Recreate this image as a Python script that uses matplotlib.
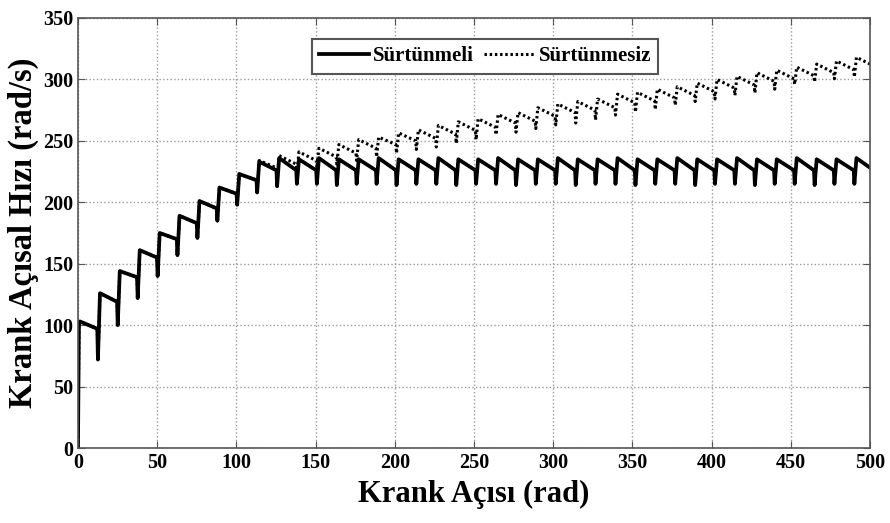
import numpy as np
import matplotlib
matplotlib.use("Agg")
import matplotlib.pyplot as plt

# cycle boundaries (crank angle, rad) where the speed dips
cycle_x = [0, 12.6, 25.1, 37.7, 50.3, 62.8, 75.4, 88.0, 100.5, 113.1,
           125.7, 138.2, 150.8, 163.4, 175.9, 188.5, 201.1, 213.6, 226.2, 238.8,
           251.3, 263.9, 276.5, 289.0, 301.6, 314.2, 326.7, 339.3, 351.9, 364.4,
           377.0, 389.6, 402.1, 414.7, 427.3, 439.8, 452.4, 465.0, 477.5, 490.1,
           502.7]

# with friction: peak after each dip, value just before next dip, dip value
peak_s = [103, 126, 144, 161, 175, 189, 201, 212, 223, 233,
          236, 235, 236, 235, 235, 236, 235, 235, 236, 235,
          235, 236, 235, 235, 236, 235, 235, 236, 235, 235,
          236, 235, 235, 236, 235, 235, 236, 235, 235, 236]
end_s = [97, 119, 139, 155, 170, 183, 195, 207, 218, 226,
         226, 226, 226, 226, 226, 226, 226, 226, 226, 226,
         226, 226, 226, 226, 226, 226, 226, 226, 226, 226,
         226, 226, 226, 226, 226, 226, 226, 226, 226, 226]
dip_s = [72, 100, 122, 140, 157, 171, 185, 198, 208, 213,
         215, 215, 214, 215, 215, 214, 215, 215, 214, 215,
         215, 214, 215, 215, 214, 215, 215, 214, 215, 215,
         214, 215, 215, 214, 215, 215, 214, 215, 215, 214]

# without friction
peak_f = [103, 126, 144, 161, 175, 189, 201, 212, 223, 234,
          238, 241, 244, 247, 251, 253, 256.5, 259, 262.5, 265.5,
          268, 271.5, 273, 277, 280, 282, 284, 288, 289.5, 292,
          294, 297, 300, 302.5, 305.5, 307.5, 310, 312.5, 315, 318]
end_f = [97, 119, 139, 155, 170, 183, 195, 207, 218, 228,
         231, 234, 237, 240, 244, 247, 250, 252, 255.5, 258.5,
         261, 264.5, 266, 270, 273, 275, 277, 281, 282.5, 285,
         287, 290, 293, 295.5, 298.5, 300.5, 303, 305.5, 308, 311]
dip_f = [72, 100, 122, 140, 157, 171, 185, 198, 208, 218,
         224, 228, 231, 234, 237, 240, 243, 245, 248, 251,
         255, 257, 260, 263, 264.5, 267, 271, 273.5, 275.5, 279,
         282, 284, 287, 289, 292, 296, 298, 300.5, 302, 305]


def build(peaks, ends, dips):
    xs, ys = [0, 0.6], [0, 100]
    for k in range(len(peaks)):
        b0, b1 = cycle_x[k], cycle_x[k + 1]
        xs += [b0 + 1.3, b1 - 0.4, b1]
        ys += [peaks[k], ends[k], dips[k]]
    return xs, ys


xs_s, ys_s = build(peak_s, end_s, dip_s)
xs_f, ys_f = build(peak_f, end_f, dip_f)

plt.rcParams['font.family'] = ['Liberation Serif', 'DejaVu Serif']
plt.rcParams['font.weight'] = 'bold'

fig = plt.figure(figsize=(8.9, 5.23), dpi=100)
ax = fig.add_axes([0.0876, 0.1434, 0.89, 0.8222])

ax.plot(xs_f, ys_f, color='black', lw=2.2, ls=(0, (0.8, 0.9)), label='Sürtünmesiz')
ax.plot(xs_s, ys_s, color='black', lw=2.7, ls='-', label='Sürtünmeli')

ax.set_xlim(0, 500)
ax.set_ylim(0, 350)
ax.set_xticks(np.arange(0, 501, 50))
ax.set_yticks(np.arange(0, 351, 50))
ax.grid(True, ls=':', color='#9a9a9a', lw=1.0)
ax.tick_params(direction='in', top=True, right=True, labelsize=14.5, length=5,
               color='#555555')
for lab in ax.get_xticklabels() + ax.get_yticklabels():
    lab.set_fontweight('bold')
for s in ax.spines.values():
    s.set_color('#555555')
    s.set_linewidth(1.2)

ax.set_xlabel('Krank Açısı (rad)', fontsize=22, fontweight='bold', labelpad=5)
ax.set_ylabel('Krank Açısal Hızı (rad/s)', fontsize=23.5, fontweight='bold', labelpad=3)

h, l = ax.get_legend_handles_labels()
leg = ax.legend([h[1], h[0]], [l[1], l[0]], loc='upper center',
                bbox_to_anchor=(0.514, 0.975), ncol=2, fancybox=False,
                framealpha=1, edgecolor='#555555',
                handlelength=2.4, handletextpad=0.2, columnspacing=0.5,
                borderpad=0.35, prop={'weight': 'bold', 'size': 15})
leg.get_frame().set_linewidth(1.5)

fig.savefig('out.png', dpi=100)
